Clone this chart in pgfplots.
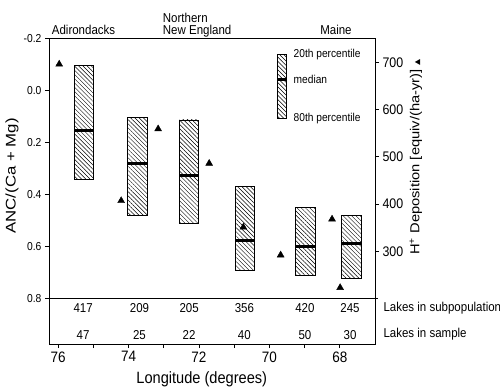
\documentclass[border=0pt]{standalone}
\usepackage{pgfplots}
\pgfplotsset{compat=1.18}
\usepgfplotslibrary{statistics}
\usetikzlibrary{patterns.meta}
\usepackage{fontspec}
\setmainfont{Liberation Sans}
\newfontfamily\dejavu{DejaVu Sans}
\newcommand{\fs}[1]{\fontsize{#1}{#1}\selectfont}
\newcommand{\vs}[1]{\scalebox{1}[1.12]{#1}}
\begin{document}
\begin{tikzpicture}
\useasboundingbox (-49pt,-42pt) rectangle (451pt,344pt);
\pgfplotsset{
  hatch/.style={draw=black, line width=0.8pt, pattern={Lines[angle=-45,distance=3pt,line width=0.45pt]}},
}
\tikzset{cnt/.style={font=\fs{11.5}}}
\begin{axis}[
  at={(0pt,0pt)}, anchor=south west,
  scale only axis, width=326pt, height=305.5pt,
  x dir=reverse, y dir=reverse,
  xmin=67.0, xmax=76.26, ymin=-0.2, ymax=0.974,
  xtick={68,70,72,74,76}, minor xtick={69,71,73,75},
  ytick={-0.2,0,0.2,0.4,0.6,0.8},
  xtick pos=bottom, ytick pos=left, tick align=outside,
  major tick length=4pt, minor tick length=4pt,
  tick style={black, line width=0.7pt},
  axis line style={line width=0.9pt},
  /pgf/number format/assume math mode=true,
  yticklabel={\vs{\pgfmathprintnumber[fixed,fixed zerofill,precision=1]{\tick}}},
  xticklabel={\vs{\pgfmathprintnumber{\tick}}},
  y tick label style={font=\fs{10.3}},
  x tick label style={font=\fs{13.5}},
  clip=false,
  boxplot/draw direction=y,
  boxplot/every median/.style={line width=3pt},
]
% boxes: 20th pct (top), median, 80th pct (bottom)
\addplot[hatch, boxplot prepared={draw position=75.27, lower whisker=-0.098, lower quartile=-0.098, median=0.154, upper quartile=0.341, upper whisker=0.341, box extend=0.555}] coordinates {};
\addplot[hatch, boxplot prepared={draw position=73.75, lower whisker=0.103, lower quartile=0.103, median=0.282, upper quartile=0.478, upper whisker=0.478, box extend=0.555}] coordinates {};
\addplot[hatch, boxplot prepared={draw position=72.28, lower whisker=0.113, lower quartile=0.113, median=0.328, upper quartile=0.510, upper whisker=0.510, box extend=0.555}] coordinates {};
\addplot[hatch, boxplot prepared={draw position=70.69, lower whisker=0.367, lower quartile=0.367, median=0.577, upper quartile=0.690, upper whisker=0.690, box extend=0.555}] coordinates {};
\addplot[hatch, boxplot prepared={draw position=68.97, lower whisker=0.449, lower quartile=0.449, median=0.600, upper quartile=0.710, upper whisker=0.710, box extend=0.555}] coordinates {};
\addplot[hatch, boxplot prepared={draw position=67.67, lower whisker=0.479, lower quartile=0.479, median=0.587, upper quartile=0.722, upper whisker=0.722, box extend=0.555}] coordinates {};
% legend glyph
\addplot[hatch, boxplot prepared={draw position=69.645, lower whisker=-0.139, lower quartile=-0.139, median=-0.041, upper quartile=0.107, upper whisker=0.107, box extend=0.236}] coordinates {};
\node[anchor=west, font=\fs{10.2}] at (axis cs:69.41,-0.137) {\vs{20th percentile}};
\node[anchor=west, font=\fs{10.2}] at (axis cs:69.41,-0.041) {\vs{median}};
\node[anchor=west, font=\fs{10.2}] at (axis cs:69.41,0.108) {\vs{80th percentile}};
% separator line
\draw[line width=0.9pt] (axis cs:76.26,0.8) -- ([xshift=3pt]axis cs:67,0.8);
% counts
\node[cnt] at (axis cs:75.29,0.837) {\vs{417}};
\node[cnt] at (axis cs:73.69,0.837) {\vs{209}};
\node[cnt] at (axis cs:72.28,0.837) {\vs{205}};
\node[cnt] at (axis cs:70.71,0.837) {\vs{356}};
\node[cnt] at (axis cs:68.99,0.837) {\vs{420}};
\node[cnt] at (axis cs:67.71,0.837) {\vs{245}};
\node[cnt] at (axis cs:75.29,0.938) {\vs{47}};
\node[cnt] at (axis cs:73.69,0.938) {\vs{25}};
\node[cnt] at (axis cs:72.28,0.938) {\vs{22}};
\node[cnt] at (axis cs:70.71,0.938) {\vs{40}};
\node[cnt] at (axis cs:68.99,0.938) {\vs{50}};
\node[cnt] at (axis cs:67.71,0.938) {\vs{30}};
\node[anchor=west, font=\fs{11.5}] at (axis cs:66.858,0.837) {\vs{Lakes in subpopulation}};
\node[anchor=west, font=\fs{11.5}] at (axis cs:66.858,0.938) {\vs{Lakes in sample}};
% region labels
\node[anchor=base west, font=\fs{11.5}, inner sep=0pt] at (axis cs:76.183,-0.2135) {\vs{Adirondacks}};
\node[anchor=base west, font=\fs{11.5}, inner sep=0pt] at (axis cs:73.03,-0.2634) {\vs{Northern}};
\node[anchor=base west, font=\fs{11.5}, inner sep=0pt] at (axis cs:73.03,-0.2135) {\vs{New England}};
\node[anchor=base west, font=\fs{11.5}, inner sep=0pt] at (axis cs:68.56,-0.2135) {\vs{Maine}};
% axis labels
\node[anchor=base, font=\fs{14.6}, inner sep=0pt] at (axis cs:71.92,1.124) {\vs{Longitude (degrees)}};
\node[rotate=90, font=\fs{14}] at (axis cs:77.31,0.328) {\scalebox{1.2}[1]{ANC/(Ca + Mg)}};
\node[rotate=90, font=\fs{13}] at (axis cs:65.84,0.2554) {\scalebox{1.13}[1]{H\textsuperscript{+} Deposition [equiv/(ha-yr)]~{\dejavu\fs{7}▲}}};
\end{axis}
\begin{axis}[
  at={(0pt,0pt)}, anchor=south west,
  scale only axis, width=326pt, height=305.5pt,
  x dir=reverse,
  xmin=67.0, xmax=76.26, ymin=103.8, ymax=750.4,
  axis x line=none, axis y line*=right,
  ytick={300,400,500,600,700}, tick align=outside,
  major tick length=4pt,
  tick style={black, line width=0.7pt},
  axis line style={line width=0.9pt},
  /pgf/number format/assume math mode=true,
  yticklabel={\vs{\pgfmathprintnumber{\tick}}},
  y tick label style={font=\fs{12.4}},
  clip=false,
]
\addplot[only marks, mark=triangle*, mark size=4pt, black] coordinates {
(75.97,696) (74.21,407) (73.16,559) (71.71,486) (70.74,351) (69.68,292) (68.22,368) (67.99,223)
};
\end{axis}
\end{tikzpicture}
\end{document}
